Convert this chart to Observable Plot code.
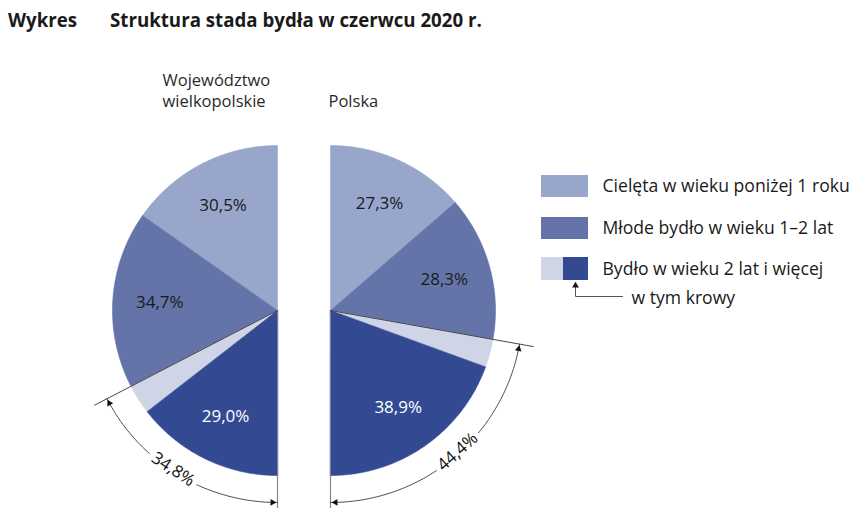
<!DOCTYPE html>
<html>
<head>
<meta charset="utf-8">
<script src="https://cdn.jsdelivr.net/npm/d3@7"></script>
<script src="https://cdn.jsdelivr.net/npm/@observablehq/plot@0.6"></script>
<style>
  html, body { margin: 0; padding: 0; background: #fff; }
  body { width: 856px; height: 508px; overflow: hidden; font-family: "Open Sans", sans-serif; color: #1a1a1a; }
  #title { position: relative; height: 40px; font-weight: bold; font-size: 18.7px; }
  #title span { position: absolute; top: 8px; line-height: 24px; white-space: nowrap; }
  #chart svg { display: block; }
</style>
</head>
<body>
<div id="title"><span style="left:8px">Wykres</span><span style="left:110px">Struktura stada bydła w czerwcu 2020 r.</span></div>
<div id="chart"></div>
<script>
// ---- data ----
const regions = ["Województwo\nwielkopolskie", "Polska"];
const calves = [30.5, 27.3];   // Cielęta w wieku poniżej 1 roku
const young  = [34.7, 28.3];   // Młode bydło w wieku 1–2 lat
const adult  = [34.8, 44.4];   // Bydło w wieku 2 lat i więcej
const cows   = [29.0, 38.9];   // w tym krowy
const legendLabels = ["Cielęta w wieku poniżej 1 roku", "Młode bydło w wieku 1–2 lat", "Bydło w wieku 2 lat i więcej"];
const noteLabel = "w tym krowy";
const sliceKeys = ["calves", "young", "other", "cows"];
const sliceColors = ["#98a6cb", "#6474a9", "#cfd5e7", "#334a92"];

// ---- layout ----
const W = 856, H = 468;
const R = 165, RA = 192, RL = 206, RT = 118;
const FONT = "'Open Sans', sans-serif";
const pies = [
  {cx: 277, cy: 270, dir: -1},
  {cx: 330, cy: 270, dir: 1}
];
const fmt = v => v.toFixed(1).replace(".", ",") + "%";
function pt(p, r, deg) {
  const a = deg * Math.PI / 180;
  return [p.cx + p.dir * r * Math.sin(a), p.cy - r * Math.cos(a)];
}

const polys = [], labels = [], bounds = [], arcs = [], arrows = [], arcLabels = [], vlines = [];
pies.forEach((p, i) => {
  const segs = [
    {key: "calves", v: calves[i], label: true},
    {key: "young", v: young[i], label: true},
    {key: "other", v: +(adult[i] - cows[i]).toFixed(1), label: false},
    {key: "cows", v: cows[i], label: true}
  ];
  let acc = 0;
  segs.forEach((s, j) => {
    const a0 = acc * 1.8, a1 = (acc + s.v) * 1.8;
    acc += s.v;
    const id = i + "-" + j;
    polys.push({id, key: s.key, x: p.cx, y: p.cy});
    for (let a = a0; a < a1; a += 0.5) { const [x, y] = pt(p, R, a); polys.push({id, key: s.key, x, y}); }
    { const [x, y] = pt(p, R, a1); polys.push({id, key: s.key, x, y}); }
    if (s.label) {
      const [x, y] = pt(p, RT, (a0 + a1) / 2);
      labels.push({x, y, text: fmt(s.v), dark: s.key === "cows"});
    }
  });
  // boundary between young and adult
  const ab = (calves[i] + young[i]) * 1.8;
  [0, RL].forEach(r => { const [x, y] = pt(p, r, ab); bounds.push({id: i, x, y}); });
  [R, 200].forEach(r => { const [x, y] = pt(p, r, 180); vlines.push({id: i, x, y}); });
  const am = (ab + 180) / 2 - 2, gap = 8.5;
  [[ab, am - gap], [am + gap, 180]].forEach(([s0, s1], k) => {
    for (let a = s0; a < s1; a += 0.5) { const [x, y] = pt(p, RA, a); arcs.push({id: i + "-" + k, x, y}); }
    const [x, y] = pt(p, RA, s1); arcs.push({id: i + "-" + k, x, y});
  });
  // arrows
  const off = 5 / RA * 180 / Math.PI;
  [[ab + off, -1], [180 - off, 1]].forEach(([a, s]) => {
    const [x, y] = pt(p, RA, a);
    const rad = a * Math.PI / 180;
    const dx = s * p.dir * Math.cos(rad), dy = s * Math.sin(rad);
    arrows.push({x, y, rot: Math.atan2(dx, -dy) * 180 / Math.PI});
  });
  const [lx, ly] = pt(p, RA - 2, am);
  arcLabels.push({x: lx, y: ly, text: fmt(adult[i]), rot: p.dir < 0 ? 180 - am : -(180 - am)});
});

// legend layout
const legRows = [
  {y1: 135, y2: 157, parts: [["calves", 541, 588]], text: legendLabels[0]},
  {y1: 177, y2: 199, parts: [["young", 541, 588]], text: legendLabels[1]},
  {y1: 217, y2: 240, parts: [["other", 541, 563], ["cows", 563, 588]], text: legendLabels[2]}
];
const legRects = legRows.flatMap(r => r.parts.map(([key, x1, x2]) => ({key, x1, x2, y1: r.y1, y2: r.y2})));
const legTexts = legRows.map(r => ({x: 602, y: (r.y1 + r.y2) / 2, text: r.text}));
legTexts.push({x: 631, y: 258, text: noteLabel});
const connector = [{x: 575, y: 247}, {x: 575, y: 256}, {x: 622, y: 256}];

const titles = [
  {x: 162, y: 49.5, text: regions[0]},
  {x: 328, y: 59.5, text: regions[1]}
];

const chart = Plot.plot({
  width: W, height: H,
  margin: 0,
  x: {domain: [0, W], range: [0, W], axis: null},
  y: {domain: [0, H], range: [0, H], axis: null},
  color: {domain: sliceKeys, range: sliceColors},
  style: {fontFamily: FONT, color: "#1a1a1a", background: "white"},
  marks: [
    Plot.line(polys, {x: "x", y: "y", z: "id", fill: "key", stroke: "key", strokeWidth: 0.6, curve: "linear-closed"}),
    Plot.line(bounds, {x: "x", y: "y", z: "id", stroke: "#333", strokeWidth: 0.9}),
    Plot.line(vlines, {x: "x", y: "y", z: "id", stroke: "#888", strokeWidth: 1.2}),
    Plot.line(arcs, {x: "x", y: "y", z: "id", stroke: "#333", strokeWidth: 0.9}),
    Plot.dot(arrows, {x: "x", y: "y", rotate: "rot", symbol: "triangle2", r: 3.2, fill: "#111", stroke: "none"}),
    Plot.text(arcLabels, {x: "x", y: "y", text: "text", rotate: "rot", fontSize: 17, fill: "#111"}),
    Plot.text(labels, {x: "x", y: "y", text: "text", fontSize: 17, fill: d => d.dark ? "white" : "#1a1a1a"}),
    Plot.text(titles, {x: "x", y: "y", text: "text", textAnchor: "start", lineAnchor: "middle", lineHeight: 1.25, fontSize: 16.5, fill: "#2a2a2a"}),
    Plot.rect(legRects, {x1: "x1", x2: "x2", y1: "y1", y2: "y2", fill: "key"}),
    Plot.text(legTexts, {x: "x", y: "y", text: "text", textAnchor: "start", fontSize: 17.6, fill: "#1a1a1a"}),
    Plot.line(connector, {x: "x", y: "y", stroke: "#555", strokeWidth: 1}),
    Plot.dot([{x: 575, y: 245}], {x: "x", y: "y", symbol: "triangle2", r: 3.2, fill: "#111", stroke: "none"})
  ]
});
document.getElementById("chart").appendChild(chart);
</script>
</body>
</html>
